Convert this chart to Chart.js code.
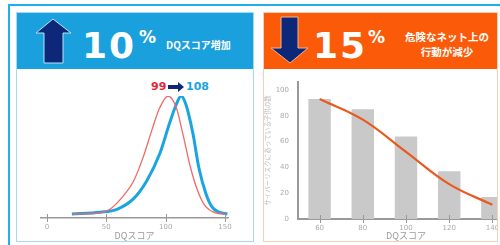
<!DOCTYPE html>
<html>
<head>
<meta charset="utf-8">
<script src="https://cdn.jsdelivr.net/npm/chart.js@4/dist/chart.umd.min.js"></script>
<style>
  body { margin: 0; width: 500px; height: 245px; overflow: hidden; background: #fff; position: relative; font-family: "DejaVu Sans", "Noto Sans CJK JP", sans-serif; }
  .frame { position: absolute; left: 8px; top: 4px; width: 500px; height: 260px; border-top: 2px solid #22b0ea; border-left: 2px solid #22b0ea; }
  .panel { position: absolute; top: 12px; height: 228px; overflow: hidden; background: #fff; }
  #left { left: 16px; width: 236px; border: 1px solid #a6daf0; }
  #right { left: 263px; width: 233px; border: 1px solid #f4d0ba; }
  .head { position: absolute; left: 0; top: 0; width: 100%; height: 56px; }
  #left .head { background: #1aa0dd; }
  #right .head { background: #fb5a08; }
  .big { position: absolute; top: 12px; color: #fff; font-weight: bold; font-size: 36px; letter-spacing: 2px; font-family: "DejaVu Sans", sans-serif; }
  .pct { position: absolute; top: 14px; color: #fff; font-weight: bold; font-size: 17px; font-family: "DejaVu Sans", sans-serif; }
  .sub { position: absolute; color: #fff; font-weight: bold; font-size: 10px; font-family: "Noto Sans CJK JP", sans-serif; line-height: 15px; text-align: center; }
  svg.arrow { position: absolute; left: 0; top: 0; }
  canvas { position: absolute; }
  .note { position: absolute; top: 67px; font-weight: bold; font-size: 11px; font-family: "DejaVu Sans", sans-serif; }
</style>
</head>
<body>
<div class="frame"></div>

<div class="panel" id="left">
  <div class="head">
    <svg class="arrow" width="80" height="56">
      <polygon points="36,6 54,20 46,20 46,50 27,50 27,20 19,20" fill="#0d2878" stroke="#b8e4f6" stroke-width="1"/>
    </svg>
    <div class="big" style="left:65px">10</div>
    <div class="pct" style="left:122px">%</div>
    <div class="sub" style="left:149px; top:24px">DQスコア増加</div>
  </div>
  <div class="note" style="left:134px; color:#e8283c">99</div>
  <svg style="position:absolute; left:151px; top:69px" width="17" height="10">
    <polygon points="0,3 10,3 10,0 16,5 10,10 10,7 0,7" fill="#0d2878"/>
  </svg>
  <div class="note" style="left:169px; color:#1aa4e0">108</div>
  <canvas id="dqChart" width="236" height="172" style="left:0; top:56px; width:236px; height:172px"></canvas>
</div>

<div class="panel" id="right">
  <div class="head">
    <svg class="arrow" width="60" height="56">
      <polygon points="17,4 34,4 34,35 44,35 26,50 7,35 17,35" fill="#0d2878" stroke="#f7b48e" stroke-width="1"/>
    </svg>
    <div class="big" style="left:49px">15</div>
    <div class="pct" style="left:104px">%</div>
    <div class="sub" style="left:133px; top:16px; width:100px; font-size:10.5px">危険なネット上の<br>行動が減少</div>
  </div>
  <canvas id="riskChart" width="250" height="172" style="left:0; top:56px; width:250px; height:172px"></canvas>
</div>

<script>
// DQ score distribution (peak = 100)
const blueScores = [21, 45, 59, 73, 84, 95, 103, 109, 113, 117, 123, 128, 134, 139, 145, 152];
const blueDensity = [0, 1.5, 4, 13, 28, 51, 76, 93, 100, 93, 68, 39, 17, 6, 1.5, 0];
const redScores = [22, 45, 53, 64, 73, 81, 89, 95, 102, 109, 114, 121, 128, 134, 142, 150];
const redDensity = [0, 1, 4, 15, 28, 48, 73, 90, 100, 90, 70, 39, 17, 6, 1, 0];
const dqTicks = [0, 50, 100, 150];

// children exposed to cyber risk by DQ score
const riskScores = ['60', '80', '100', '120', '140'];
const riskCounts = [93, 85, 64, 37, 17];
const riskTrend = [93, 77, 52, 27, 11];

const tickFont = { family: 'DejaVu Sans', size: 7 };
const titleFont = { family: 'Noto Sans CJK JP', size: 9 };

// small tick marks that cross the x axis line
const crossTicks = {
  id: 'crossTicks',
  afterDraw(chart) {
    const s = chart.scales.x, ctx = chart.ctx, y = chart.chartArea.bottom;
    ctx.save();
    ctx.strokeStyle = '#999';
    ctx.lineWidth = 1;
    s.ticks.forEach((t, i) => {
      const x = Math.round(s.getPixelForTick(i)) + 0.5;
      ctx.beginPath();
      ctx.moveTo(x, y - 4);
      ctx.lineTo(x, y + 4);
      ctx.stroke();
    });
    ctx.restore();
  }
};

new Chart(document.getElementById('dqChart'), {
  type: 'line',
  data: {
    datasets: [{
      data: redScores.map((x, i) => ({ x: x, y: redDensity[i] })),
      borderColor: '#f06868',
      borderWidth: 1.3,
      pointRadius: 0,
      cubicInterpolationMode: 'monotone'
    }, {
      data: blueScores.map((x, i) => ({ x: x, y: blueDensity[i] })),
      borderColor: '#1aa4e0',
      borderWidth: 3,
      pointRadius: 0,
      cubicInterpolationMode: 'monotone'
    }]
  },
  options: {
    responsive: false,
    animation: false,
    layout: { padding: { top: 27, left: 24, right: 25 } },
    plugins: { legend: { display: false }, tooltip: { enabled: false } },
    scales: {
      x: {
        type: 'linear',
        min: -5,
        max: 152.5,
        afterBuildTicks: s => { s.ticks = dqTicks.map(v => ({ value: v })); },
        afterFit: s => { s.height = 23; },
        grid: { display: false, drawTicks: false },
        border: { color: '#999', width: 1.5 },
        ticks: { color: '#aaa', font: tickFont, padding: 5 },
        title: { display: true, text: 'DQスコア', color: '#999', font: titleFont, padding: 0 }
      },
      y: { display: false, min: -3.4, max: 100 }
    }
  },
  plugins: [crossTicks]
});

new Chart(document.getElementById('riskChart'), {
  type: 'bar',
  data: {
    labels: riskScores,
    datasets: [{
      type: 'line',
      data: riskTrend,
      borderColor: '#ea5a1e',
      borderWidth: 2.2,
      pointRadius: 0,
      tension: 0.4
    }, {
      data: riskCounts,
      backgroundColor: '#c9c9c9',
      barPercentage: 0.52,
      categoryPercentage: 1
    }]
  },
  options: {
    responsive: false,
    animation: false,
    layout: { padding: { top: 10 } },
    plugins: { legend: { display: false }, tooltip: { enabled: false } },
    scales: {
      x: {
        afterFit: s => { s.height = 22; },
        grid: { display: false, drawTicks: false },
        border: { color: '#999', width: 2 },
        ticks: { color: '#aaa', font: tickFont, padding: 5 },
        title: { display: true, text: 'DQスコア', color: '#999', font: titleFont, padding: 0 }
      },
      y: {
        min: 0,
        max: 106,
        afterFit: s => { s.width = 34; },
        grid: { display: false, drawTicks: false },
        border: { color: '#999', width: 2 },
        ticks: { stepSize: 20, includeBounds: false, color: '#aaa', font: tickFont, padding: 9 },
        title: { display: true, text: 'サイバーリスクにあっている子供の数', color: '#bbb', font: { family: 'Noto Sans CJK JP', size: 6.5 }, padding: 0 }
      }
    }
  },
  plugins: [crossTicks]
});
</script>
</body>
</html>
